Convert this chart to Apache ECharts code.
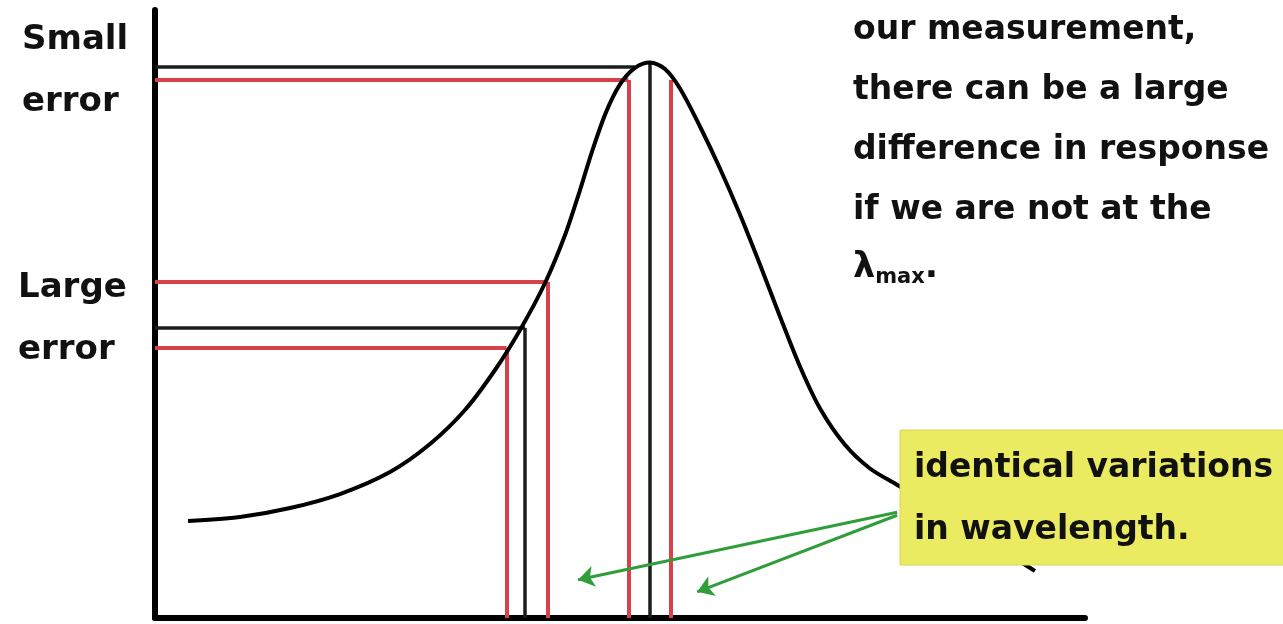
<!DOCTYPE html>
<html>
<head>
<meta charset="utf-8">
<script src="https://cdn.jsdelivr.net/npm/echarts@6/dist/echarts.min.js"></script>
<style>
  html, body { margin: 0; padding: 0; background: #fff; }
  #main { width: 1283px; height: 624px; }
</style>
</head>
<body>
<div id="main"></div>
<script>
// absorbance curve: [wavelength, response] (arbitrary units 0-100)
var curve = [
    [3.55, 15.95], [9.14, 16.61], [14.52, 18.09], [19.89, 20.39], [25.27, 24.01],
    [29.57, 28.62], [33.33, 34.21], [36.56, 40.79], [39.25, 47.37], [41.94, 55.10],
    [44.09, 62.99], [45.70, 70.39], [46.99, 76.71], [48.49, 83.16], [50.00, 87.76],
    [51.61, 90.48], [53.23, 91.35], [54.84, 90.30], [56.45, 87.09], [58.60, 80.84],
    [60.75, 73.93], [62.90, 66.37], [65.05, 58.14], [67.20, 49.59], [69.35, 41.37],
    [71.51, 34.46], [74.19, 28.49], [76.88, 24.59], [79.78, 21.92], [83.33, 18.59],
    [87.63, 14.47], [90.86, 11.35], [94.62, 7.73]
];

// readings at the peak (small error) and on the slope (large error)
// horizontal: [level, end x]   vertical: [wavelength, top]
var peakRedH = [[88.5, 50.9]];
var peakRedV = [[50.9, 88.5], [55.5, 88.5]];
var peakBlackH = [[90.6, 51.6]];
var peakBlackV = [[53.2, 91.2]];
var slopeRedH = [[55.3, 42.2], [44.4, 37.8]];
var slopeRedV = [[42.2, 55.3], [37.8, 44.4]];
var slopeBlackH = [[47.7, 39.8]];
var slopeBlackV = [[39.8, 47.7]];

// green arrows from the note to the wavelength variations: [from, to]
var arrows = [
    [[79.8, 17.4], [45.5, 6.3]],
    [[79.8, 16.9], [58.3, 4.3]]
];

var sideLabels = ['Small\nerror', 'Large\nerror'];
var noteLines = ['our measurement,', 'there can be a large', 'difference in response', 'if we are not at the'];
var boxLines = ['identical variations', 'in wavelength.'];

var FONT = '"DejaVu Sans", sans-serif';
var RED = '#d8404a';
var BLACK = '#1c1c1c';

function segs(hs, vs) {
    var out = [];
    hs.forEach(function (h) { out.push([[0, h[0]], [h[1], h[0]]]); });
    vs.forEach(function (v) { out.push([[v[0], 0], [v[0], v[1]]]); });
    return out;
}

function segSeries(list, color, width) {
    return {
        type: 'lines',
        coordinateSystem: 'cartesian2d',
        silent: true,
        z: 2,
        lineStyle: { color: color, width: width, opacity: 1 },
        data: list.map(function (s) { return { coords: s }; })
    };
}

var dom = document.getElementById('main');
var myChart = echarts.init(dom, null, { renderer: 'canvas' });

var graphics = [];
// side labels
graphics.push({
    type: 'text', left: 22, top: 9, z: 10,
    style: { text: sideLabels[0], font: 'bold 34px ' + FONT, fill: '#111', lineHeight: 62 }
});
graphics.push({
    type: 'text', left: 18, top: 257, z: 10,
    style: { text: sideLabels[1], font: 'bold 34px ' + FONT, fill: '#111', lineHeight: 62 }
});
// note at top right
noteLines.forEach(function (t, i) {
    graphics.push({
        type: 'text', left: 853, top: 14 + i * 60, z: 10,
        style: { text: t, font: 'bold 33px ' + FONT, fill: '#111' }
    });
});
graphics.push({
    type: 'text', left: 853, top: 250, z: 10,
    style: {
        text: '{l|λ}{s|max}{l|.}',
        rich: {
            l: { font: 'bold 35px ' + FONT, fill: '#111' },
            s: { font: 'bold 21px ' + FONT, fill: '#111', padding: [20, 0, 0, 0] }
        }
    }
});
// yellow note box
graphics.push({
    type: 'rect', z: 20,
    shape: { x: 900, y: 430, width: 390, height: 135 },
    style: { fill: '#ebeb62', stroke: '#d6d65a', lineWidth: 1 }
});
boxLines.forEach(function (t, i) {
    graphics.push({
        type: 'text', left: 914, top: 452 + i * 62, z: 21,
        style: { text: t, font: 'bold 33px ' + FONT, fill: '#111' }
    });
});

option = {
    backgroundColor: '#ffffff',
    animation: false,
    grid: { left: 155, right: 198, top: 10, bottom: 6 },
    xAxis: {
        type: 'value', min: 0, max: 100,
        axisLine: { show: true, onZero: false, lineStyle: { color: '#000', width: 6 } },
        axisTick: { show: false }, axisLabel: { show: false }, splitLine: { show: false }
    },
    yAxis: {
        type: 'value', min: 0, max: 100,
        axisLine: { show: true, onZero: false, lineStyle: { color: '#000', width: 6 } },
        axisTick: { show: false }, axisLabel: { show: false }, splitLine: { show: false }
    },
    graphic: graphics,
    series: [
        segSeries(segs(peakRedH, peakRedV), RED, 4),
        segSeries(segs(slopeRedH, slopeRedV), RED, 4),
        segSeries(segs(peakBlackH, peakBlackV), BLACK, 3.5),
        segSeries(segs(slopeBlackH, slopeBlackV), BLACK, 3.5),
        {
            type: 'line', data: curve, smooth: 0.3, showSymbol: false, silent: true, z: 5,
            lineStyle: { color: '#000', width: 4 }
        },
        {
            type: 'lines', coordinateSystem: 'cartesian2d', silent: true, z: 6,
            symbol: ['none', 'arrow'], symbolSize: 16,
            lineStyle: { color: '#2f9e3a', width: 3, opacity: 1 },
            data: arrows.map(function (a) { return { coords: a }; })
        }
    ]
};

if (option && typeof option === 'object') {
    myChart.setOption(option, true);
}
</script>
</body>
</html>
